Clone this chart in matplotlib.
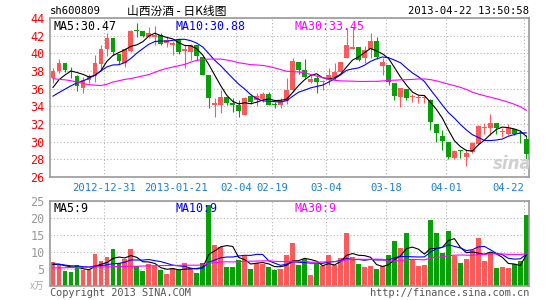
import matplotlib
matplotlib.use("Agg")
import matplotlib.pyplot as plt
import numpy as np
import pandas as pd

# trading days shown on the chart
dates = (["2012-12-%s" % d for d in ["18", "19", "20", "21", "24", "25", "26", "27", "28", "31"]]
         + ["2013-01-%s" % d for d in ["04", "07", "08", "09", "10", "11", "14", "15", "16", "17",
                                       "18", "21", "22", "23", "24", "25", "28", "29", "30", "31"]]
         + ["2013-02-%s" % d for d in ["01", "04", "05", "06", "07", "08", "18", "19", "20", "21",
                                       "22", "25", "26", "27", "28"]]
         + ["2013-03-%s" % d for d in ["01", "04", "05", "06", "07", "08", "11", "12", "13", "14",
                                       "15", "18", "19", "20", "21", "22", "25", "26", "27", "28", "29"]]
         + ["2013-04-%s" % d for d in ["01", "02", "03", "08", "09", "10", "11", "12", "15", "16",
                                       "17", "18", "19", "22"]])

tick_dates = ["2012-12-31", "2013-01-21", "2013-02-04", "2013-02-19",
              "2013-03-04", "2013-03-18", "2013-04-01", "2013-04-22"]
tick_labels = ["2012-12-31", "2013-01-21", "02-04", "02-19", "03-04", "03-18", "04-01", "04-22"]

opens = [37.2, 38.05, 38.85, 37.95, 37.4, 36.05, 37.0, 37.45, 38.8, 40.5,
         41.7, 39.9, 38.9, 40.3, 42.55, 42.5, 41.8, 41.9, 42.1, 41.2,
         40.95, 41.6, 40.3, 40.2, 41.0, 39.6, 37.6, 34.1, 34.15, 35.1,
         34.35, 34.2, 33.0, 35.2, 34.7, 34.8, 35.4, 34.2, 34.1, 34.6,
         35.85, 39.05, 38.1, 36.8, 37.25, 36.8, 37.0, 37.35, 37.85, 39.45,
         40.5, 40.7, 39.5, 40.45, 41.4, 38.6, 38.7, 36.6, 35.1, 35.95,
         35.05, 34.9, 34.95, 34.7, 31.95, 30.65, 30.0, 28.2, 28.95, 28.3,
         28.8, 29.7, 31.55, 31.5, 32.1, 31.1, 30.85, 31.4, 31.0, 30.3]
closes = [38.0, 38.85, 38.1, 37.85, 36.35, 36.95, 37.4, 38.95, 40.5, 41.7,
          40.2, 39.1, 40.5, 42.5, 42.5, 42.0, 42.3, 42.1, 41.1, 41.5,
          41.15, 40.2, 40.5, 40.95, 39.75, 37.6, 34.9, 34.4, 35.0, 34.35,
          34.15, 33.5, 35.0, 34.5, 35.2, 35.35, 34.15, 34.1, 34.6, 35.85,
          39.15, 38.1, 37.35, 37.05, 36.8, 36.85, 37.55, 37.9, 39.05, 40.95,
          40.75, 39.25, 40.4, 41.4, 39.6, 39.05, 36.7, 35.2, 36.05, 35.0,
          35.1, 34.95, 35.0, 32.25, 30.95, 30.1, 28.3, 28.95, 28.9, 28.75,
          29.8, 31.8, 31.6, 32.1, 31.6, 31.15, 31.5, 30.85, 30.9, 28.6]
highs = [38.3, 39.35, 38.9, 38.5, 37.55, 37.35, 37.7, 39.8, 41.0, 42.25,
         41.75, 39.9, 40.55, 42.65, 43.45, 42.5, 43.0, 43.1, 42.25, 41.8,
         41.35, 41.6, 40.95, 41.1, 41.0, 39.6, 37.6, 34.9, 35.85, 35.1,
         34.9, 34.7, 35.1, 35.45, 35.5, 35.6, 35.6, 34.45, 34.9, 37.2,
         39.45, 39.05, 39.35, 37.55, 37.6, 37.0, 38.3, 38.85, 39.05, 42.85,
         43.0, 40.7, 40.85, 42.25, 41.9, 39.5, 38.7, 36.6, 36.1, 35.95,
         35.4, 35.3, 35.3, 34.8, 31.95, 31.3, 30.0, 29.05, 29.05, 29.2,
         30.0, 31.9, 32.1, 33.1, 32.1, 31.5, 31.95, 31.4, 31.3, 30.8]
lows = [36.6, 37.75, 37.9, 37.2, 35.75, 35.55, 36.6, 36.8, 38.0, 39.75,
        39.8, 38.8, 38.4, 40.1, 41.9, 41.9, 41.7, 40.9, 40.95, 40.75,
        39.8, 39.9, 38.3, 39.25, 39.25, 37.5, 33.8, 32.8, 33.3, 34.15,
        33.4, 32.8, 33.0, 34.3, 34.0, 34.5, 34.15, 33.8, 33.8, 34.3,
        35.65, 37.7, 37.25, 36.6, 35.5, 35.85, 36.4, 37.0, 37.85, 39.45,
        40.5, 39.15, 38.85, 39.5, 39.4, 37.6, 36.4, 34.7, 33.95, 34.7,
        34.45, 34.35, 34.4, 31.3, 30.0, 29.05, 28.05, 28.05, 28.1, 27.3,
        28.7, 29.6, 30.9, 30.75, 30.85, 30.55, 30.75, 30.75, 29.8, 27.9]
# volume, x 10k lots
volumes = [6.96, 6.0, 4.4, 3.9, 6.0, 4.5, 4.5, 9.2, 7.2, 8.4,
           10.7, 6.6, 7.9, 10.7, 5.7, 4.2, 6.3, 5.7, 4.5, 3.3,
           5.2, 4.5, 6.6, 5.2, 3.7, 6.6, 23.8, 11.9, 11.3, 5.4,
           5.4, 7.45, 8.6, 4.9, 6.7, 6.3, 5.5, 4.5, 4.8, 8.9,
           12.6, 6.0, 7.9, 3.0, 6.5, 5.8, 9.1, 6.0, 8.1, 15.6,
           8.5, 6.5, 5.5, 5.7, 4.8, 5.7, 8.9, 13.3, 11.1, 15.6,
           7.9, 5.8, 6.0, 19.5, 15.6, 9.5, 16.0, 8.7, 6.6, 7.7,
           10.6, 14.2, 7.2, 9.7, 5.1, 5.5, 5.1, 6.4, 7.35, 21.0]

# days before the window, estimated from where the MA5/MA10 lines start
close_before = [34.75, 34.3, 34.05, 33.0, 34.75, 34.5, 35.4, 35.6, 37.2]
vol_before = [6.8, 7.2, 6.0, 6.5, 6.5, 5.5, 6.5, 5.8, 6.2]
# MA30 values for the first 29 days
ma30_head = [37.15, 37.05, 37.0, 36.9, 36.75, 36.6, 36.45, 36.4, 36.35, 36.5,
             36.75, 36.9, 37.05, 37.15, 37.3, 37.45, 37.6, 37.85, 38.1, 38.3,
             38.45, 38.6, 38.75, 39.0, 39.2, 39.3, 39.35, 39.35, 39.35]
vol_ma30_head = [5.2, 5.2, 5.25, 5.3, 5.3, 5.35, 5.4, 5.45, 5.5, 5.5,
                 5.55, 5.6, 5.65, 5.7, 5.7, 5.75, 5.8, 5.85, 5.9, 5.9,
                 5.95, 5.95, 6.0, 6.0, 6.0, 6.05, 6.6, 6.75, 6.9]

# legend texts as printed on the chart
price_ma_labels = ["MA5:30.47", "MA10:30.88", "MA30:33.45"]
vol_ma_labels = ["MA5:9", "MA10:9", "MA30:9"]

RED = "#fa5a5a"
GREEN = "#08a008"
GRID = "#b4b4b4"
FRAME = "#9a9a9a"
MA_COLORS = ["black", "#0000ff", "#ff00ff"]
MONO = ["DejaVu Sans Mono", "Noto Sans CJK SC"]
CJK = ["Noto Sans CJK SC", "DejaVu Sans"]


def moving(before, values, n, head=None):
    s = pd.Series(list(before) + list(values)).rolling(n).mean().to_numpy()[len(before):]
    if head is not None:
        s[:len(head)] = head
    return s


o = np.array(opens)
c = np.array(closes)
h = np.array(highs)
l = np.array(lows)
v = np.array(volumes)
x = np.arange(len(dates))
cols = np.where(c >= o, RED, GREEN)

price_mas = [moving(close_before, closes, 5), moving(close_before, closes, 10),
             moving([], closes, 30, ma30_head)]
vol_mas = [moving(vol_before, volumes, 5), moving(vol_before, volumes, 10),
           moving([], volumes, 30, vol_ma30_head)]

fig = plt.figure(figsize=(5.45, 3.0), dpi=100)
ax = fig.add_axes([50 / 545, 1 - 177 / 300, 479 / 545, 159 / 300])
axv = fig.add_axes([50 / 545, 1 - 285.5 / 300, 479 / 545, 84.5 / 300])

tick_pos = [dates.index(d) - 0.42 for d in tick_dates]

for a in (ax, axv):
    a.set_xlim(-0.5, len(dates) - 0.55)
    a.set_xticks(tick_pos)
    for s in a.spines.values():
        s.set_color(FRAME)
        s.set_linewidth(1.2)
    a.grid(True, color=GRID, linestyle=(0, (1, 2)), linewidth=0.8)
    a.set_axisbelow(True)
    a.tick_params(length=0)

# candles
ax.vlines(x, l, h, colors=cols, linewidth=0.8, zorder=2)
ax.bar(x, np.maximum(np.abs(c - o), 0.12), bottom=np.minimum(o, c), width=0.8,
       color=cols, linewidth=0, zorder=3)
for ma, col in zip(price_mas, MA_COLORS):
    ax.plot(x, ma, color=col, linewidth=0.8, zorder=4)
ax.set_ylim(26, 44)
ax.set_yticks(np.arange(26, 45, 2))
ax.tick_params(axis="y", colors="#ff0000", labelsize=8.5, pad=4)
for t in ax.get_yticklabels():
    t.set_family(MONO)
ax.set_xticklabels(tick_labels, family=MONO, fontsize=7.6, color="#1a7fcf")
ax.tick_params(axis="x", pad=4)
# the last date label sits inside the frame, ending at its grid line
ax.get_xticklabels()[-1].set_horizontalalignment("right")

# volume
axv.bar(x, v, width=0.8, color=cols, linewidth=0, zorder=2)
for ma, col in zip(vol_mas, MA_COLORS):
    axv.plot(x, ma, color=col, linewidth=0.8, zorder=4)
axv.set_ylim(0, 25)
axv.set_yticks([5, 10, 15, 20, 25])
axv.tick_params(axis="y", colors="#999999", labelsize=8.5, pad=4)
for t in axv.get_yticklabels():
    t.set_family(MONO)
axv.set_xticklabels([])

# labels inside the panels
for a, labels in ((ax, price_ma_labels), (axv, vol_ma_labels)):
    for xpos, txt, col in zip([0.008, 0.262, 0.511], labels, MA_COLORS):
        a.text(xpos, 0.985, txt, transform=a.transAxes, ha="left", va="top",
               family=MONO, fontsize=8.4, color=col, zorder=6)

# header and footer
fig.text(50 / 545, 1 - 11 / 300, "sh600809", family=MONO, fontsize=7.6, va="center", ha="left")
fig.text(177 / 545, 1 - 11 / 300, "山西汾酒 - 日K线图", family=CJK,
         fontsize=8.5, va="center", ha="center")
fig.text(529 / 545, 1 - 11 / 300, "2013-04-22 13:50:58", family=MONO, fontsize=7.6,
         va="center", ha="right")
fig.text(37 / 545, 1 - 286 / 300, "x万", family=CJK,
         fontsize=7, va="center", ha="center", color="#aaaaaa")
fig.text(50 / 545, 1 - 292.5 / 300, "Copyright 2013 SINA.COM", family=MONO, fontsize=7.4,
         va="center", ha="left", color="#555555")
fig.text(529 / 545, 1 - 292.5 / 300, "http://finance.sina.com.cn", family=MONO, fontsize=7.4,
         va="center", ha="right", color="#555555")
fig.text(512 / 545, 1 - 164 / 300, "sina", fontsize=12, fontweight="bold", style="italic",
         color="#d0d0d0", va="center", ha="center")

fig.savefig("out.png", dpi=100)
